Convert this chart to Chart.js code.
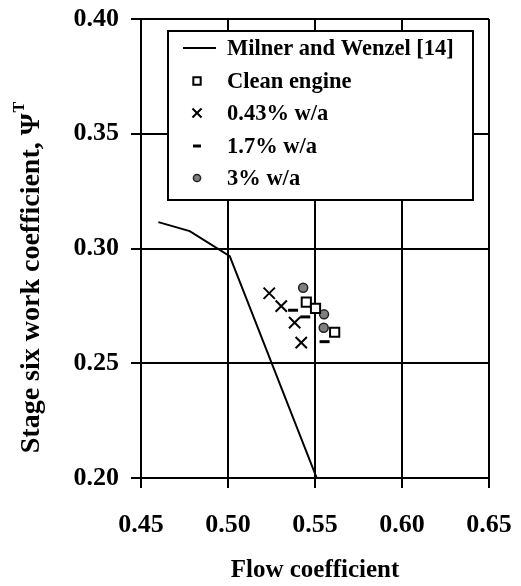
<!DOCTYPE html>
<html>
<head>
<meta charset="utf-8">
<script src="https://cdn.jsdelivr.net/npm/chart.js@4.4.0/dist/chart.umd.min.js"></script>
<style>
  html, body { margin: 0; padding: 0; background: #fff; }
  #wrap { width: 521px; height: 586px; }
</style>
</head>
<body>
<div id="wrap"><canvas id="chart" width="521" height="586"></canvas></div>
<script>
// Milner and Wenzel [14] correlation
const milnerX = [0.46, 0.478, 0.501, 0.551];
const milnerY = [0.3115, 0.3076, 0.2967, 0.200];

// test points
const cleanX = [0.545, 0.5503, 0.5613];
const cleanY = [0.2766, 0.2739, 0.2635];
const wa043X = [0.5237, 0.5306, 0.5383, 0.5421];
const wa043Y = [0.2805, 0.2749, 0.2677, 0.259];
const wa17X = [0.5374, 0.5444, 0.5555];
const wa17Y = [0.2731, 0.2702, 0.2594];
const wa3X = [0.5432, 0.5552, 0.555];
const wa3Y = [0.2829, 0.2713, 0.2655];

const labels = ['Milner and Wenzel [14]', 'Clean engine', '0.43% w/a', '1.7% w/a', '3% w/a'];
const xTicks = [0.45, 0.50, 0.55, 0.60, 0.65];
const yTicks = [0.20, 0.25, 0.30, 0.35, 0.40];

const FONT = '"Liberation Serif", "Times New Roman", serif';

const pts = (xs, ys) => xs.map((x, i) => ({ x: x, y: ys[i] }));

// legend box + axis titles drawn by hand
const decor = {
  id: 'decor',
  afterDraw(chart) {
    const ctx = chart.ctx;
    const area = chart.chartArea;
    ctx.save();

    // y title, rotated, with superscript T
    ctx.fillStyle = '#000';
    ctx.translate(32, 278);
    ctx.rotate(-Math.PI / 2);
    ctx.font = 'bold 28px ' + FONT;
    const main = 'Stage six work coefficient, \u03A8';
    const w = ctx.measureText(main).width;
    ctx.font = 'bold 16px ' + FONT;
    const ws = ctx.measureText('T').width;
    const x0 = -(w + ws) / 2;
    ctx.font = 'bold 28px ' + FONT;
    ctx.textBaseline = 'middle';
    ctx.textAlign = 'left';
    ctx.fillText(main, x0, 0);
    ctx.font = 'bold 16px ' + FONT;
    ctx.fillText('T', x0 + w + 1, -12);
    ctx.setTransform(1, 0, 0, 1, 0, 0);

    // x title
    ctx.font = 'bold 25px ' + FONT;
    ctx.textAlign = 'center';
    ctx.textBaseline = 'middle';
    ctx.fillText('Flow coefficient', (area.left + area.right) / 2, 571);

    // legend
    const bx = 168, by = 31, bw = 305, bh = 169;
    ctx.fillStyle = '#fff';
    ctx.fillRect(bx, by, bw, bh);
    ctx.strokeStyle = '#000';
    ctx.lineWidth = 2;
    ctx.strokeRect(bx, by, bw, bh);

    const rowY = [48, 81, 113, 146, 178];
    chart.data.datasets.forEach((ds, i) => {
      const y = rowY[i];
      if (ds.showLine) {
        ctx.strokeStyle = ds.borderColor;
        ctx.lineWidth = ds.borderWidth;
        ctx.beginPath();
        ctx.moveTo(183, y);
        ctx.lineTo(216, y);
        ctx.stroke();
      } else {
        ctx.fillStyle = ds.backgroundColor;
        ctx.strokeStyle = ds.borderColor;
        ctx.lineWidth = ds.borderWidth;
        Chart.helpers.drawPoint(ctx, {
          pointStyle: ds.pointStyle,
          radius: ds.pointRadius * 0.8,
          rotation: 0,
          borderWidth: ds.borderWidth
        }, 197, y);
      }
      ctx.fillStyle = '#000';
      ctx.font = 'bold 22.5px ' + FONT;
      ctx.textAlign = 'left';
      ctx.textBaseline = 'middle';
      ctx.fillText(ds.label, 227, y + 1);
    });
    ctx.restore();
  }
};

new Chart(document.getElementById('chart'), {
  type: 'scatter',
  plugins: [decor],
  data: {
    datasets: [
      {
        label: labels[0],
        data: pts(milnerX, milnerY),
        showLine: true,
        borderColor: '#000',
        borderWidth: 2,
        pointRadius: 0,
        backgroundColor: '#000'
      },
      {
        label: labels[1],
        data: pts(cleanX, cleanY),
        pointStyle: 'rect',
        pointRadius: 6.5,
        borderWidth: 2,
        borderColor: '#000',
        backgroundColor: '#fff'
      },
      {
        label: labels[2],
        data: pts(wa043X, wa043Y),
        pointStyle: 'crossRot',
        pointRadius: 8,
        borderWidth: 2,
        borderColor: '#000',
        backgroundColor: '#000'
      },
      {
        label: labels[3],
        data: pts(wa17X, wa17Y),
        pointStyle: 'line',
        pointRadius: 5,
        borderWidth: 3,
        borderColor: '#000',
        backgroundColor: '#000'
      },
      {
        label: labels[4],
        data: pts(wa3X, wa3Y),
        pointStyle: 'circle',
        pointRadius: 4.5,
        borderWidth: 1.5,
        borderColor: '#222',
        backgroundColor: '#7f7f7f'
      }
    ]
  },
  options: {
    responsive: false,
    animation: false,
    layout: { padding: { top: 19, right: 32, left: 0, bottom: 0 } },
    plugins: {
      legend: { display: false },
      tooltip: { enabled: false }
    },
    scales: {
      x: {
        type: 'linear',
        min: 0.45,
        max: 0.65,
        afterFit: (s) => { s.height = 108; s.paddingLeft = 0; s.paddingRight = 0; },
        afterBuildTicks: (s) => { s.ticks = xTicks.map(v => ({ value: v })); },
        ticks: {
          color: '#000',
          padding: 22,
          font: { family: FONT, size: 26, weight: 'bold' },
          callback: (v) => v.toFixed(2)
        },
        grid: { color: '#000', lineWidth: 2, tickLength: 10 },
        border: { color: '#000', width: 2 }
      },
      y: {
        type: 'linear',
        min: 0.20,
        max: 0.40,
        afterFit: (s) => { s.width = 141; s.paddingTop = 0; s.paddingBottom = 0; },
        afterBuildTicks: (s) => { s.ticks = yTicks.map(v => ({ value: v })); },
        ticks: {
          color: '#000',
          padding: 12,
          font: { family: FONT, size: 26, weight: 'bold' },
          callback: (v) => v.toFixed(2)
        },
        grid: { color: '#000', lineWidth: 2, tickLength: 10 },
        border: { color: '#000', width: 2 }
      }
    }
  }
});
</script>
</body>
</html>
